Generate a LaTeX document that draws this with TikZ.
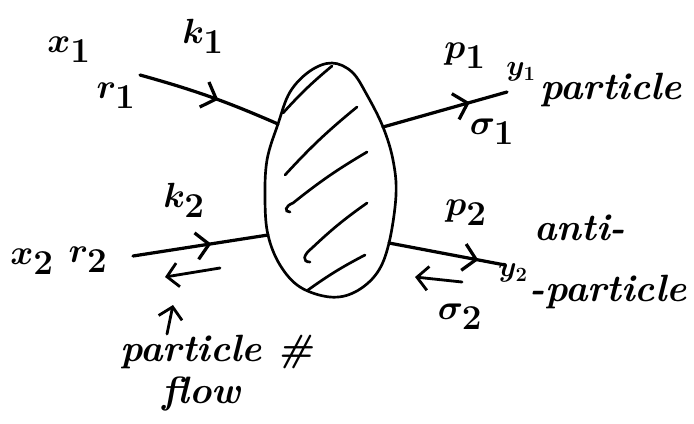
\documentclass[tikz,border=0pt]{standalone}
\usepackage{amsmath,amssymb}
\usepackage{tikz}
\usetikzlibrary{
  arrows.meta, positioning, calc,
  decorations.markings
}
\usepackage{xcolor}
\definecolor{ink}{RGB}{0,0,0}

\tikzset{
  leg/.style={draw=ink, line width=2.3pt, line cap=round},
  midarrow/.style={postaction={decorate, decoration={markings,
      mark=at position #1 with {\arrow{Straight Barb[length=9pt,width=19pt]}}}}},
  flowarrow/.style={draw=ink, line width=2pt, line cap=round,
      -{Straight Barb[length=8pt,width=17pt]}},
  blob/.style={draw=ink, line width=1.9pt},
  hatch/.style={draw=ink, line width=1.9pt, line cap=round},
  lbl/.style={inner sep=0pt, font=\fontsize{33}{36}\selectfont\boldmath},
  word/.style={inner sep=0pt, anchor=west, font=\fontsize{27}{30}\selectfont\bfseries\itshape},
  tag/.style={inner sep=0pt, font=\fontsize{21}{23}\selectfont\boldmath},
}

\begin{document}
\begin{tikzpicture}[x=0.025cm, y=-0.025cm]
  \useasboundingbox (0,0) rectangle (694,423);

  % the blob and its hatching
  \coordinate (in1) at (278,124);
  \coordinate (in2) at (268,235);
  \coordinate (out1) at (383,127);
  \coordinate (out2) at (389,243);
  \draw[blob] plot[smooth cycle, tension=0.6] coordinates {
    (332,63) (352,72) (367,95) (out1) (393,160) (396,195) (out2)
    (377,273) (355,292) (330,297) (300,287) (280,265) (in2)
    (265,200) (267,160) (in1) (290,92) (310,71)};
  \draw[hatch] (283,113) to[bend left=4] (332,66);
  \draw[hatch] (285,175) to[bend left=4] (357,107);
  \draw[hatch] (290,212) .. controls (284,212) and (285,206) .. (293,203)
    to[bend left=4] (367,152);
  \draw[hatch] (310,262) .. controls (302,262) and (303,255) .. (312,248)
    to[bend left=4] (367,203);
  \draw[hatch] (308,290) to[bend left=4] (365,255);

  % incoming and outgoing legs
  \coordinate (r1) at (140,75);
  \coordinate (r2) at (133,256);
  \coordinate (p1) at (507,92);
  \coordinate (p2) at (505,265);
  \draw[leg, midarrow=0.56] (r1) to[bend left=4] (in1);
  \draw[leg, midarrow=0.58] (r2) -- (in2);
  \draw[leg, midarrow=0.7] (out1) -- (p1);
  \draw[leg, midarrow=0.77] (out2) -- (p2);

  % particle number flow
  \coordinate (f1a) at (220,268);
  \coordinate (f1b) at (165,277);
  \coordinate (f2a) at (462,282);
  \coordinate (f2b) at (415,277);
  \draw[flowarrow] (f1a) -- (f1b);
  \draw[flowarrow] (f2a) -- (f2b);

  % labels
  \node[lbl] (x1) at (69,50) {$x_1$};
  \node[lbl] (k1) at (203,36) {$k_1$};
  \node[lbl] (r1l) at (116,96) {$r_1$};
  \node[lbl] (k2) at (184,200) {$k_2$};
  \node[lbl] (x2) at (32,262) {$x_2$};
  \node[lbl] (r2l) at (88,260) {$r_2$};
  \node[lbl] (p1l) at (465,56) {$p_1$};
  \node[lbl] (s1) at (492,132) {$\sigma_1$};
  \node[tag] (y1) at (521,72) {$y_1$};
  \node[word] (part1) at (540,90) {particle};
  \node[lbl] (p2l) at (466,213) {$p_2$};
  \node[lbl] (s2) at (460,317) {$\sigma_2$};
  \node[word] (anti) at (534,228) {anti-};
  \node[tag] (y2) at (513,273) {$y_2$};
  \node[word] (part2) at (529,292) {-particle};
  \node[word] (pflow) at (120,352) {particle \#};
  \node[word] (flow) at (162,394) {flow};

  \coordinate (up0) at (167,334);
  \coordinate (up1) at (173,305);
  \draw[flowarrow] (up0) -- (up1);
\end{tikzpicture}
\end{document}
